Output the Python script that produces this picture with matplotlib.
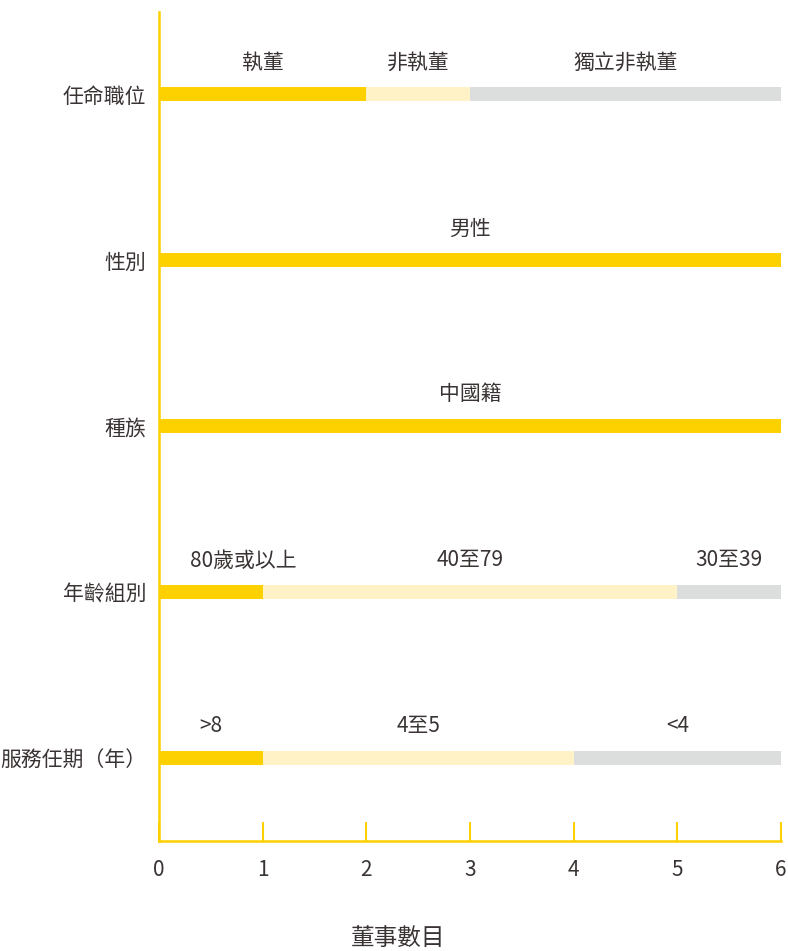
import matplotlib
matplotlib.use("Agg")
import matplotlib.pyplot as plt

plt.rcParams['font.family'] = ['Noto Sans CJK TC', 'DejaVu Sans']
plt.rcParams['font.weight'] = 'light'

# Board composition data
categories = ["任命職位", "性別", "種族", "年齡組別", "服務任期（年）"]
segment_labels = [
    ["執董", "非執董", "獨立非執董"],
    ["男性"],
    ["中國籍"],
    ["80歲或以上", "40至79", "30至39"],
    [">8", "4至5", "<4"],
]
segment_values = [
    [2, 1, 3],
    [6],
    [6],
    [1, 4, 1],
    [1, 3, 2],
]
x_ticks = [0, 1, 2, 3, 4, 5, 6]
x_label = "董事數目"

YELLOW = "#FDD000"
LIGHT = "#FEF2C6"
GREY = "#DCDDDD"
TEXT = "#3A3333"
palette = [YELLOW, LIGHT, GREY]

fig = plt.figure(figsize=(7.88, 9.51), dpi=100)
ax = fig.add_axes([159/788, 110/951, 622/788, 829/951])

bar_h = 0.09
for i, (vals, labs) in enumerate(zip(segment_values, segment_labels)):
    left = 0
    for j, (v, lab) in enumerate(zip(vals, labs)):
        ax.barh(i, v, left=left, height=bar_h, color=palette[j], linewidth=0)
        # wide labels on a narrow first segment start just right of the axis
        if left == 0 and len(lab) * 0.21 > v:
            ax.text(left + 0.3, i - 0.19, lab, ha="left", va="center",
                    fontsize=15, color=TEXT)
        else:
            ax.text(left + v / 2, i - 0.19, lab, ha="center", va="center",
                    fontsize=15, color=TEXT)
        left += v

ax.set_xlim(0, 6)
ax.set_ylim(4.5, -0.494)
ax.set_yticks(range(len(categories)))
ax.set_yticklabels(categories, fontsize=15, color=TEXT)
ax.tick_params(axis="y", length=0, pad=9)

ax.set_xticks(x_ticks)
ax.set_xticklabels([str(v) for v in x_ticks], fontsize=15, color=TEXT)
ax.tick_params(axis="x", direction="in", length=14, width=1.5,
               color=YELLOW, pad=13)
for lab in ax.get_xticklabels():
    lab.set_clip_on(False)

for s in ["top", "right"]:
    ax.spines[s].set_visible(False)
for s in ["left", "bottom"]:
    ax.spines[s].set_color(YELLOW)
    ax.spines[s].set_linewidth(1.8)

ax.set_xlabel(x_label, fontsize=17, color=TEXT, va="center")
ax.xaxis.set_label_coords(0.384, -0.117)

fig.savefig("out.png", dpi=100)
